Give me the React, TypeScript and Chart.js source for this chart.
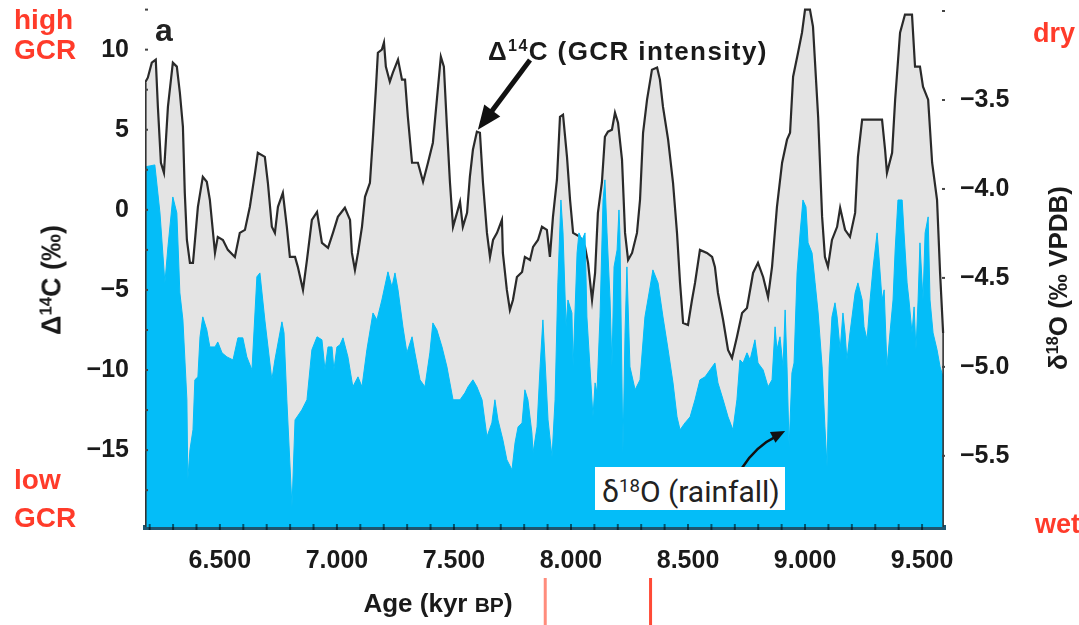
import React, { useEffect, useRef } from 'react';
import { Chart, registerables } from 'chart.js';

Chart.register(...registerables);

// ---------- data ----------
const c14Ages = [
  6.180, 6.192, 6.209, 6.226, 6.235, 6.248, 6.261, 6.278, 6.299, 6.316,
  6.329, 6.342, 6.350, 6.359, 6.372, 6.385, 6.406, 6.427, 6.444, 6.457,
  6.479, 6.491, 6.513, 6.534, 6.564, 6.585, 6.607, 6.628, 6.650, 6.662,
  6.692, 6.705, 6.722, 6.735, 6.748, 6.769, 6.786, 6.799, 6.821, 6.833,
  6.855, 6.872, 6.893, 6.915, 6.936, 6.962, 6.983, 7.004, 7.034, 7.056,
  7.064, 7.077, 7.090, 7.107, 7.120, 7.141, 7.154, 7.167, 7.175, 7.192,
  7.201, 7.209, 7.226, 7.239, 7.261, 7.278, 7.291, 7.303, 7.321, 7.346,
  7.368, 7.389, 7.410, 7.427, 7.444, 7.457, 7.470, 7.483, 7.496, 7.513,
  7.526, 7.538, 7.556, 7.568, 7.581, 7.598, 7.611, 7.624, 7.641, 7.654,
  7.667, 7.684, 7.705, 7.709, 7.726, 7.739, 7.752, 7.769, 7.791, 7.803,
  7.825, 7.838, 7.859, 7.876, 7.897, 7.910, 7.923, 7.940, 7.953, 7.966,
  7.983, 7.996, 8.009, 8.038, 8.060, 8.073, 8.090, 8.103, 8.115, 8.132,
  8.145, 8.158, 8.175, 8.188, 8.201, 8.218, 8.231, 8.244, 8.261, 8.282,
  8.295, 8.308, 8.325, 8.346, 8.368, 8.380, 8.393, 8.415, 8.436, 8.453,
  8.466, 8.479, 8.500, 8.517, 8.530, 8.551, 8.581, 8.603, 8.615, 8.628,
  8.650, 8.671, 8.688, 8.709, 8.731, 8.752, 8.778, 8.799, 8.821, 8.842,
  8.859, 8.880, 8.902, 8.923, 8.936, 8.949, 8.970, 8.987, 9.000, 9.021,
  9.034, 9.056, 9.073, 9.085, 9.098, 9.115, 9.137, 9.150, 9.171, 9.192,
  9.214, 9.226, 9.244, 9.329, 9.342, 9.350, 9.372, 9.385, 9.406, 9.427,
  9.457, 9.470, 9.491, 9.504, 9.526, 9.543, 9.564, 9.577, 9.590,
];

const c14Values = [
  7.94, 8.25, 9.19, 9.38, 6.44, 2.94, 2.31, 6.44, 9.19, 8.94,
  7.31, 5.19, 1.06, -1.88, -3.31, -3.31, 0.19, 2.06, 1.75, 0.63,
  -2.69, -1.69, -1.88, -2.5, -2.94, -1.44, -1.25, 0.19, 2.31, 3.56,
  3.31, 1.69, -1.06, -1.44, 0.19, 1.06, -1.06, -2.94, -2.94, -3.56,
  -5.0, -3.13, -0.63, -0.13, -2.06, -2.38, -1.44, -0.44, 0.13, -0.63,
  -2.69, -3.75, -2.69, -1.06, 0.81, 1.69, 4.56, 7.69, 9.81, 10.0,
  10.44, 8.94, 8.0, 8.56, 9.38, 8.13, 8.13, 5.81, 2.94, 2.94,
  1.75, 2.94, 4.19, 6.88, 9.56, 8.94, 5.19, 1.69, -1.06, -0.19,
  0.5, -1.06, -0.19, 2.06, 3.75, 4.88, 4.81, 1.69, -1.44, -2.94,
  -1.88, -1.44, -0.63, -2.69, -5.0, -6.25, -5.63, -4.19, -3.88, -2.94,
  -3.13, -2.31, -1.88, -1.06, -1.25, -2.94, -0.44, 1.88, 5.81, 5.94,
  3.31, 0.63, -1.44, -1.69, -2.31, -3.31, -5.63, -3.94, -0.19, 1.69,
  4.56, 4.88, 5.0, 6.06, 5.44, 3.13, -1.44, -3.13, -2.69, -1.44,
  0.63, 4.81, 6.88, 8.75, 8.88, 8.13, 6.44, 4.38, 1.69, -1.44,
  -4.56, -7.06, -7.19, -5.63, -4.56, -2.5, -2.69, -2.94, -3.56, -5.19,
  -6.88, -8.75, -9.25, -7.94, -6.44, -6.13, -3.94, -3.31, -4.19, -5.44,
  -3.56, 0.19, 2.94, 4.38, 4.81, 8.31, 9.81, 11.06, 12.5, 12.5,
  11.44, 5.81, -0.44, -2.94, -3.56, -1.88, -1.06, 0.13, -1.25, -1.69,
  -0.19, 3.31, 5.63, 5.63, 3.75, 2.31, 3.56, 6.88, 11.06, 12.19,
  12.19, 8.94, 8.94, 7.69, 6.88, 2.94, 0.63, -3.94, -7.69,
];

const o18Ages = [
  6.180, 6.222, 6.244, 6.265, 6.278, 6.299, 6.316, 6.329, 6.342, 6.359,
  6.363, 6.372, 6.385, 6.393, 6.406, 6.415, 6.427, 6.444, 6.457, 6.479,
  6.491, 6.509, 6.530, 6.556, 6.577, 6.598, 6.615, 6.637, 6.658, 6.671,
  6.692, 6.722, 6.735, 6.765, 6.774, 6.786, 6.808, 6.821, 6.850, 6.872,
  6.893, 6.915, 6.936, 6.949, 6.962, 6.979, 6.987, 7.000, 7.013, 7.026,
  7.047, 7.068, 7.090, 7.107, 7.128, 7.154, 7.171, 7.192, 7.218, 7.235,
  7.248, 7.261, 7.282, 7.299, 7.321, 7.333, 7.355, 7.376, 7.397, 7.410,
  7.427, 7.449, 7.470, 7.496, 7.526, 7.547, 7.560, 7.581, 7.598, 7.620,
  7.641, 7.662, 7.675, 7.688, 7.709, 7.726, 7.748, 7.761, 7.774, 7.791,
  7.803, 7.816, 7.833, 7.838, 7.855, 7.868, 7.880, 7.889, 7.902, 7.919,
  7.932, 7.944, 7.957, 7.966, 7.979, 7.987, 8.004, 8.009, 8.026, 8.034,
  8.047, 8.060, 8.068, 8.081, 8.094, 8.103, 8.111, 8.124, 8.137, 8.145,
  8.154, 8.167, 8.175, 8.184, 8.197, 8.205, 8.209, 8.222, 8.231, 8.239,
  8.252, 8.274, 8.295, 8.316, 8.338, 8.350, 8.372, 8.393, 8.415, 8.436,
  8.453, 8.466, 8.487, 8.509, 8.530, 8.551, 8.573, 8.594, 8.615, 8.628,
  8.650, 8.671, 8.692, 8.709, 8.722, 8.735, 8.752, 8.765, 8.786, 8.799,
  8.821, 8.842, 8.859, 8.872, 8.880, 8.893, 8.906, 8.915, 8.923, 8.932,
  8.944, 8.953, 8.966, 8.979, 8.991, 9.004, 9.013, 9.030, 9.043, 9.056,
  9.073, 9.085, 9.094, 9.103, 9.115, 9.128, 9.137, 9.150, 9.162, 9.171,
  9.179, 9.192, 9.214, 9.226, 9.244, 9.252, 9.265, 9.278, 9.291, 9.308,
  9.316, 9.329, 9.338, 9.350, 9.363, 9.376, 9.385, 9.397, 9.415, 9.423,
  9.436, 9.444, 9.457, 9.466, 9.474, 9.483, 9.491, 9.504, 9.513, 9.526,
  9.534, 9.547, 9.564, 9.577, 9.590,
];

const o18Values = [
  -3.876, -3.865, -4.135, -4.528, -4.326, -4.045, -4.135, -4.584, -4.736, -5.185,
  -5.635, -5.466, -5.354, -5.073, -5.056, -4.831, -4.719, -4.792, -4.888, -4.888,
  -4.860, -4.921, -4.944, -4.961, -4.837, -4.837, -4.944, -5.017, -4.494, -4.472,
  -4.736, -5.073, -4.961, -4.747, -4.809, -5.185, -5.787, -5.298, -5.242, -5.185,
  -4.904, -4.831, -4.848, -5.017, -4.888, -4.888, -5.017, -4.888, -4.876, -4.837,
  -4.944, -5.112, -5.056, -5.112, -4.904, -4.697, -4.736, -4.624, -4.466, -4.551,
  -4.472, -4.567, -4.775, -4.921, -4.831, -4.921, -5.073, -5.112, -4.921, -4.753,
  -4.792, -4.888, -5.000, -5.185, -5.185, -5.146, -5.112, -5.073, -5.112, -5.185,
  -5.393, -5.315, -5.185, -5.298, -5.410, -5.522, -5.579, -5.427, -5.337, -5.315,
  -5.129, -5.185, -5.371, -5.483, -5.337, -5.000, -4.736, -4.961, -5.298, -5.506,
  -5.185, -4.528, -4.062, -4.247, -4.775, -4.624, -4.697, -5.000, -4.360, -4.247,
  -4.287, -4.247, -4.719, -5.000, -5.281, -5.090, -5.146, -4.719, -4.062, -3.949,
  -4.247, -4.624, -5.000, -4.438, -4.343, -4.118, -4.247, -5.483, -4.809, -4.438,
  -5.000, -5.129, -5.073, -4.719, -4.551, -4.455, -4.528, -4.719, -4.904, -5.090,
  -5.281, -5.354, -5.315, -5.281, -5.185, -5.073, -5.056, -5.017, -4.978, -5.090,
  -5.185, -5.281, -5.354, -5.185, -4.961, -4.978, -4.921, -4.961, -4.848, -4.978,
  -5.017, -5.112, -5.073, -4.775, -4.904, -4.831, -5.000, -4.680, -5.000, -5.449,
  -5.034, -4.978, -4.472, -4.247, -4.062, -4.101, -4.303, -4.360, -4.528, -4.697,
  -5.000, -5.337, -5.562, -5.000, -4.719, -4.640, -4.719, -4.904, -4.697, -4.809,
  -4.961, -4.809, -4.584, -4.528, -4.624, -4.775, -4.848, -4.624, -4.438, -4.247,
  -4.382, -4.624, -4.567, -5.000, -4.809, -4.624, -4.343, -4.062, -4.062, -4.247,
  -4.528, -4.624, -4.809, -4.663, -4.904, -4.624, -4.303, -4.624, -4.247, -4.157,
  -4.624, -4.809, -4.904, -5.000, -5.056,
];

const xTickValues = [6.5, 7.0, 7.5, 8.0, 8.5, 9.0, 9.5];
const xTickLabels = ['6.500', '7.000', '7.500', '8.000', '8.500', '9.000', '9.500'];
const xMinorTicks = [
  6.2, 6.3, 6.4, 6.5, 6.6, 6.7, 6.8, 6.9, 7.0, 7.1, 7.2, 7.3, 7.4, 7.5, 7.6, 7.7, 7.8,
  7.9, 8.0, 8.1, 8.2, 8.3, 8.4, 8.5, 8.6, 8.7, 8.8, 8.9, 9.0, 9.1, 9.2, 9.3, 9.4, 9.5,
];
const leftTickValues = [10, 5, 0, -5, -10, -15];
const leftTickLabels = ['10', '5', '0', '\u22125', '\u221210', '\u221215'];
const leftMinorTicks = [12.5, 10, 7.5, 5, 2.5, 0, -2.5, -5, -7.5, -10, -12.5, -15, -17.5];
const rightTickValues = [-3.5, -4.0, -4.5, -5.0, -5.5];
const rightTickLabels = ['\u22123.5', '\u22124.0', '\u22124.5', '\u22125.0', '\u22125.5'];
const rightMinorTicks = [-3.0, -3.5, -4.0, -4.5, -5.0, -5.5];
const eventAges = [7.89, 8.34];
const eventColors = ['#ff8c7c', '#ff4a36'];
const c14ArrowTarget = { age: 7.598, value: 4.88 };
const o18ArrowTarget = { age: 8.915, value: -5.36 };

// ---------- styles ----------
const BLUE = '#04bdf8';
const GREY = '#e4e4e4';
const LINE = '#2a2a2a';
const RED = '#ff3b2a';
const SANS = '"Liberation Sans", Arial, Helvetica, sans-serif';

function drawHead(ctx: CanvasRenderingContext2D, fx: number, fy: number, tx: number, ty: number, len: number, w: number) {
  const a = Math.atan2(ty - fy, tx - fx);
  const bx = tx - len * Math.cos(a);
  const by = ty - len * Math.sin(a);
  ctx.beginPath();
  ctx.moveTo(tx, ty);
  ctx.lineTo(bx + (w / 2) * Math.sin(a), by - (w / 2) * Math.cos(a));
  ctx.lineTo(bx - (w / 2) * Math.sin(a), by + (w / 2) * Math.cos(a));
  ctx.closePath();
  ctx.fill();
}

const overlayPlugin = {
  id: 'overlay',
  afterDraw(chart: any) {
    const { ctx, scales, chartArea } = chart;
    const x = scales.x;
    const yl = scales.yL;
    const yr = scales.yR;
    ctx.save();

    // plot edges (outline of the filled area)
    ctx.strokeStyle = '#333';
    ctx.lineWidth = 1.6;
    ctx.beginPath();
    ctx.moveTo(chartArea.left + 0.8, yl.getPixelForValue(c14Values[0]));
    ctx.lineTo(chartArea.left + 0.8, chartArea.bottom);
    ctx.moveTo(x.getPixelForValue(c14Ages[c14Ages.length - 1]), yl.getPixelForValue(c14Values[c14Values.length - 1]));
    ctx.lineTo(x.getPixelForValue(c14Ages[c14Ages.length - 1]), chartArea.bottom);
    ctx.stroke();

    // minor tick marks
    ctx.strokeStyle = '#444';
    ctx.lineWidth = 2;
    leftMinorTicks.forEach((v) => {
      const py = yl.getPixelForValue(v);
      ctx.beginPath();
      ctx.moveTo(chartArea.left, py);
      ctx.lineTo(chartArea.left + 3, py);
      ctx.stroke();
    });
    rightMinorTicks.forEach((v) => {
      const py = yr.getPixelForValue(v);
      ctx.beginPath();
      ctx.moveTo(chartArea.right - 3, py);
      ctx.lineTo(chartArea.right, py);
      ctx.stroke();
    });
    ctx.strokeStyle = 'rgba(0,0,0,0.55)';
    xMinorTicks.forEach((v) => {
      const px = x.getPixelForValue(v);
      ctx.beginPath();
      ctx.moveTo(px, chartArea.bottom - 3);
      ctx.lineTo(px, chartArea.bottom + 3);
      ctx.stroke();
    });

    // red event marks below the axis
    eventAges.forEach((a, i) => {
      const px = x.getPixelForValue(a);
      ctx.strokeStyle = eventColors[i];
      ctx.lineWidth = 3;
      ctx.beginPath();
      ctx.moveTo(px, 578);
      ctx.lineTo(px, 625);
      ctx.stroke();
    });

    // Δ14C arrow
    ctx.fillStyle = '#111';
    ctx.strokeStyle = '#111';
    const tx = x.getPixelForValue(c14ArrowTarget.age) + 1;
    const ty = yl.getPixelForValue(c14ArrowTarget.value) - 2;
    const fx = 530;
    const fy = 60;
    const ang = Math.atan2(ty - fy, tx - fx);
    ctx.lineWidth = 5;
    ctx.beginPath();
    ctx.moveTo(fx, fy);
    ctx.lineTo(tx - 20 * Math.cos(ang), ty - 20 * Math.sin(ang));
    ctx.stroke();
    drawHead(ctx, fx, fy, tx, ty, 24, 20);

    // δ18O arrow (slightly curved)
    const ox = x.getPixelForValue(o18ArrowTarget.age);
    const oy = yr.getPixelForValue(o18ArrowTarget.value);
    const sx = 742;
    const sy = 468;
    const cx = 756;
    const cy = 446;
    ctx.lineWidth = 2.5;
    ctx.beginPath();
    ctx.moveTo(sx, sy);
    ctx.quadraticCurveTo(cx, cy, ox - 8, oy + 5);
    ctx.stroke();
    drawHead(ctx, cx, cy, ox, oy, 14, 12);

    ctx.restore();
  },
};

const tickFont = { family: SANS, size: 25, weight: 'bold' as const };

const zeroPad = (s: any) => {
  s.paddingTop = 0;
  s.paddingBottom = 0;
  s.paddingLeft = 0;
  s.paddingRight = 0;
};

const Sup = ({ children }: { children: React.ReactNode }) => (
  <span style={{ fontSize: '0.62em', position: 'relative', top: '-0.55em' }}>{children}</span>
);

export default function App() {
  const ref = useRef<HTMLCanvasElement>(null);

  useEffect(() => {
    if (!ref.current) return;
    const chart = new Chart(ref.current, {
      type: 'line',
      data: {
        datasets: [
          {
            label: 'δ18O (rainfall)',
            data: o18Ages.map((a, i) => ({ x: a, y: o18Values[i] })),
            yAxisID: 'yR',
            fill: 'start',
            backgroundColor: BLUE,
            borderColor: BLUE,
            borderWidth: 1,
            pointRadius: 0,
            tension: 0,
          },
          {
            label: 'Δ14C (GCR intensity)',
            data: c14Ages.map((a, i) => ({ x: a, y: c14Values[i] })),
            yAxisID: 'yL',
            fill: 'start',
            backgroundColor: GREY,
            borderColor: LINE,
            borderWidth: 2.2,
            pointRadius: 0,
            tension: 0,
          },
        ],
      },
      options: {
        responsive: false,
        animation: false,
        layout: { padding: { top: 8, left: 0, right: 0, bottom: 0 } },
        plugins: { legend: { display: false }, tooltip: { enabled: false } },
        scales: {
          x: {
            type: 'linear',
            position: 'bottom',
            min: 6.18,
            max: 9.598,
            afterBuildTicks: (s: any) => {
              s.ticks = xTickValues.map((v) => ({ value: v }));
            },
            afterFit: (s: any) => {
              s.height = 98;
              zeroPad(s);
            },
            ticks: {
              callback: (_v: any, i: number) => xTickLabels[i],
              font: tickFont,
              color: '#1a1a1a',
              padding: 19,
              maxRotation: 0,
              autoSkip: false,
            },
            grid: { display: true, drawOnChartArea: false, drawTicks: false },
            border: { display: true, width: 5, color: '#1f5670' },
          },
          yL: {
            type: 'linear',
            position: 'left',
            min: -19.8,
            max: 12.6,
            afterBuildTicks: (s: any) => {
              s.ticks = leftTickValues.map((v) => ({ value: v }));
            },
            afterFit: (s: any) => {
              s.width = 145;
              zeroPad(s);
            },
            ticks: {
              callback: (_v: any, i: number) => leftTickLabels[i],
              font: tickFont,
              color: '#1a1a1a',
              padding: 16,
              autoSkip: false,
            },
            grid: { display: true, drawOnChartArea: false, drawTicks: false },
            border: { display: false },
          },
          yR: {
            type: 'linear',
            position: 'right',
            min: -5.9,
            max: -2.983,
            afterBuildTicks: (s: any) => {
              s.ticks = rightTickValues.map((v) => ({ value: v }));
            },
            afterFit: (s: any) => {
              s.width = 134;
              zeroPad(s);
            },
            ticks: {
              callback: (_v: any, i: number) => rightTickLabels[i],
              font: tickFont,
              color: '#1a1a1a',
              padding: 15,
              autoSkip: false,
            },
            grid: { display: true, drawOnChartArea: false, drawTicks: false },
            border: { display: false },
          },
        },
      },
      plugins: [overlayPlugin],
    } as any);
    return () => chart.destroy();
  }, []);

  const base: React.CSSProperties = {
    position: 'absolute',
    whiteSpace: 'nowrap',
    lineHeight: 1,
    fontFamily: SANS,
    fontWeight: 700,
  };

  return (
    <div style={{ position: 'fixed', left: 0, top: 0, width: 1079, height: 625, background: '#fff', overflow: 'hidden' }}>
      <canvas ref={ref} width={1079} height={625} style={{ display: 'block', width: 1079, height: 625 }} />

      <div style={{ ...base, left: 14, top: 6, fontSize: 28, color: RED }}>high</div>
      <div style={{ ...base, left: 14, top: 36, fontSize: 28, color: RED }}>GCR</div>
      <div style={{ ...base, left: 14, top: 466, fontSize: 28, color: RED }}>low</div>
      <div style={{ ...base, left: 14, top: 504, fontSize: 28, color: RED }}>GCR</div>
      <div style={{ ...base, left: 1033, top: 20, fontSize: 27, color: RED }}>dry</div>
      <div style={{ ...base, left: 1035, top: 511, fontSize: 27, color: RED }}>wet</div>

      <div style={{ ...base, left: 155, top: 14, fontSize: 32, color: '#222' }}>a</div>

      <div
        style={{
          ...base,
          left: 52,
          top: 280,
          fontSize: 27,
          color: '#1a1a1a',
          transform: 'translate(-50%, -50%) rotate(-90deg)',
        }}
      >
        Δ<Sup>14</Sup>C (‰)
      </div>
      <div
        style={{
          ...base,
          left: 1058,
          top: 278,
          fontSize: 26,
          color: '#1a1a1a',
          transform: 'translate(-50%, -50%) rotate(-90deg)',
        }}
      >
        δ<Sup>18</Sup>O (‰ VPDB)
      </div>
      <div style={{ ...base, left: 438, top: 603, fontSize: 26, color: '#1a1a1a', transform: 'translate(-50%, -50%)' }}>
        Age (kyr <span style={{ fontSize: 21 }}>BP</span>)
      </div>

      <div style={{ ...base, left: 488, top: 38, fontSize: 26, color: '#1a1a1a', letterSpacing: 1.4 }}>
        Δ<Sup>14</Sup>C (GCR intensity)
      </div>

      <div
        style={{
          position: 'absolute',
          left: 595,
          top: 467,
          width: 190,
          height: 43,
          background: '#fff',
        }}
      >
        <div
          style={{
            position: 'absolute',
            left: 7,
            top: 10,
            whiteSpace: 'nowrap',
            lineHeight: 1,
            fontFamily: 'Roboto, "Noto Sans", Arial, sans-serif',
            fontSize: 30,
            fontWeight: 400,
            color: '#222',
          }}
        >
          δ<Sup>18</Sup>O (rainfall)
        </div>
      </div>
    </div>
  );
}
